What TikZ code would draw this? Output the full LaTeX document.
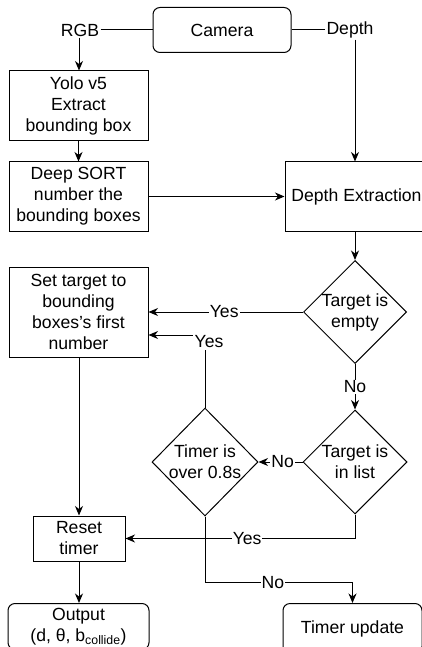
\documentclass[tikz,border=0pt]{standalone}
\usepackage{fontspec}
\setmainfont{Liberation Sans}
\usetikzlibrary{shapes.geometric,arrows.meta,calc}
\begin{document}
\begin{tikzpicture}[x=1pt,y=-1pt,
  font=\fontsize{17.6}{21}\selectfont,
  line width=1pt,
  box/.style={draw, align=center, inner sep=0pt},
  rbox/.style={box, rounded corners=7pt},
  dia/.style={draw, diamond, inner sep=0pt, minimum width=104pt, minimum height=104pt},
  dtext/.style={align=center, inner sep=0pt},
  lbl/.style={fill=white, inner sep=1pt},
  arr/.style={-{Stealth[length=9.5pt,width=8pt,inset=3pt]}}]
\useasboundingbox (0,0) rectangle (421,647);

% sensor and detection chain
\node[rbox, minimum width=138pt, minimum height=45pt] (cam) at (222,30) {Camera};
\node[inner sep=1pt] (rgb) at (80,30) {RGB};
\node[inner sep=1pt] (dlbl) at (350,30) {Depth};
\node[box, minimum width=139pt, minimum height=70pt] (yolo) at (78.5,106) {Yolo v5\\Extract\\bounding box};
\node[box, minimum width=139pt, minimum height=69pt] (sort) at (78.5,196.5) {Deep SORT\\number the\\bounding boxes};
\node[box, minimum width=143pt, minimum height=69pt] (dext) at (356.5,196.5) {Depth Extraction};

% decisions
\node[dia, minimum width=103pt, minimum height=103pt,
  label={[dtext]center:Target is\\empty}] (empty) at (355,312) {};
\node[box, minimum width=139pt, minimum height=90pt] (set) at (78.5,312) {Set target to\\bounding\\boxes{\char"27}s first\\number};
\node[dia, label={[dtext]center:Target is\\in list}] (inlist) at (355,462) {};
\node[dia, minimum width=106pt, minimum height=108pt,
  label={[dtext]center:Timer is\\over 0.8s}] (over) at (205,462) {};
\node[box, minimum width=92pt, minimum height=45pt] (reset) at (79,538.5) {Reset\\timer};

% outputs
\node[rbox, minimum width=141pt, minimum height=46pt, anchor=north] (out) at (78.5,603) {Output\\(d, θ, b\textsubscript{collide})};
\node[rbox, minimum width=139pt, minimum height=50pt, anchor=north] (upd) at (352.5,603) {Timer update};

% connectors
\draw (rgb) -- (cam);
\draw (cam) -- (dlbl);
\draw[arr] (rgb.south -| 79,0) -- (yolo.north -| 79,0);
\draw[arr] (yolo) -- (sort);
\draw[arr] (dlbl.south -| 355,0) -- (dext.north -| 355,0);
\draw[arr] (sort) -- (dext);
\draw[arr] (dext.south -| empty) -- (empty);
\draw[arr] (empty) -- node[lbl, pos=0.51] {Yes} (set);
\draw[arr] (over.north) |- node[lbl, inner sep=2pt, pos=0.5, xshift=4pt, yshift=-7pt] {Yes} ([yshift=-23pt]set.east);
\draw[arr] (empty) -- node[lbl] {No} (inlist);
\draw[arr] (inlist) -- node[lbl, pos=0.45] {No} (over);
\draw[arr] (inlist.south) |- node[lbl, pos=0.735] {Yes} (reset.east);
\draw[arr] (set.south -| reset) -- (reset);
\draw[arr] (reset) -- (reset |- out.north);
\draw[arr] (over.south) -- ++(0,66) -| node[lbl, pos=0.23] {No} (upd.north);
\end{tikzpicture}
\end{document}
